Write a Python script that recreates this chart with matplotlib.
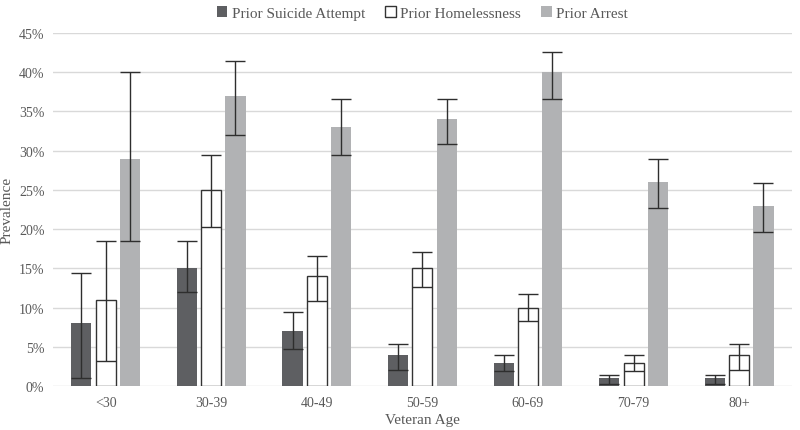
import numpy as np
import matplotlib.pyplot as plt

plt.rcParams['font.family'] = ['Liberation Serif', 'DejaVu Serif']

ages = ['<30', '30-39', '40-49', '50-59', '60-69', '70-79', '80+']

suicide = [8, 15, 7, 4, 3, 1, 1]
suicide_lo = [1.0, 12.0, 4.7, 2.0, 1.9, 0.3, 0.3]
suicide_hi = [14.4, 18.5, 9.5, 5.4, 3.9, 1.4, 1.4]

homeless = [11, 25, 14, 15, 10, 3, 4]
homeless_lo = [3.2, 20.3, 10.9, 12.6, 8.3, 1.9, 2.1]
homeless_hi = [18.5, 29.4, 16.6, 17.1, 11.7, 3.9, 5.4]

arrest = [29, 37, 33, 34, 40, 26, 23]
arrest_lo = [18.5, 32.0, 29.4, 30.8, 36.6, 22.7, 19.7]
arrest_hi = [40.0, 41.4, 36.6, 36.6, 42.6, 29.0, 25.9]


def yerr(vals, lo, hi):
    v = np.array(vals)
    return np.vstack([v - np.array(lo), np.array(hi) - v])


fig = plt.figure(figsize=(8, 4.31), dpi=100)
ax = fig.add_axes([0.066, 0.102, 0.924, 0.819])

x = np.arange(len(ages))
w = 0.19
off = 0.23
ekw = dict(ecolor='#2e2e2e', elinewidth=1.0, capsize=7, capthick=1.0)

ax.bar(x - off, suicide, w, color='#5e5f62', yerr=yerr(suicide, suicide_lo, suicide_hi),
       error_kw=ekw, label='Prior Suicide Attempt', zorder=2)
ax.bar(x, homeless, w, color='white', edgecolor='#333333', linewidth=1.0,
       yerr=yerr(homeless, homeless_lo, homeless_hi), error_kw=ekw,
       label='Prior Homelessness', zorder=2)
ax.bar(x + off, arrest, w, color='#b1b2b4', yerr=yerr(arrest, arrest_lo, arrest_hi),
       error_kw=ekw, label='Prior Arrest', zorder=2)

ax.set_xlim(-0.5, len(ages) - 0.5)
ax.set_ylim(0, 45)
ax.set_yticks(np.arange(0, 46, 5))
ax.set_yticklabels([f'{t}%' for t in range(0, 46, 5)])
ax.set_xticks(x)
ax.set_xticklabels(ages)
ax.yaxis.grid(True, color='#d9d9d9', linewidth=1.0, zorder=0)
ax.set_axisbelow(True)
for s in ax.spines.values():
    s.set_visible(False)
ax.tick_params(axis='y', length=0, labelsize=10, colors='#595959', pad=6)
ax.tick_params(axis='x', length=0, labelsize=10, colors='#595959', pad=7)
ax.set_ylabel('Prevalence', fontsize=11, color='#595959')
ax.set_xlabel('Veteran Age', fontsize=11, color='#595959', labelpad=3)

leg = ax.legend(loc='upper center', bbox_to_anchor=(0.5, 1.115), ncol=3, frameon=False,
                fontsize=11, handlelength=0.7, handleheight=0.7, handletextpad=0.3,
                columnspacing=1.3)
for t in leg.get_texts():
    t.set_color('#595959')

fig.savefig('out.png', dpi=100)
